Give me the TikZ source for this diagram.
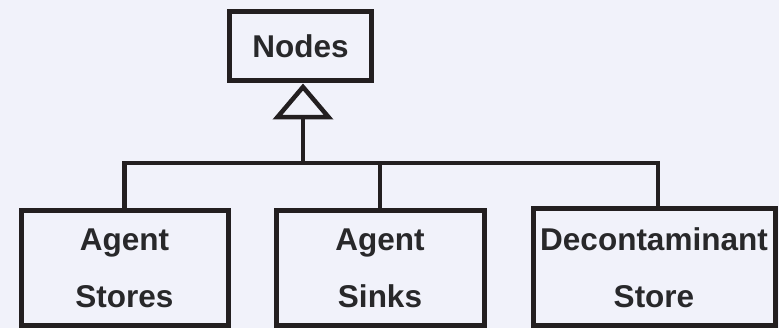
\documentclass[tikz,border=0pt]{standalone}
\usepackage{fontspec}
\setmainfont{Liberation Sans}
\usetikzlibrary{arrows.meta}
\definecolor{bg}{RGB}{241,242,250}
\definecolor{ink}{RGB}{35,31,32}
\definecolor{txt}{RGB}{40,40,42}
\begin{document}
\begin{tikzpicture}[x=1pt,y=-1pt,
  box/.style={draw=ink,line width=5pt,inner sep=0pt,text=txt,align=center,
    font=\fontsize{31.5}{57}\selectfont\bfseries},
  conn/.style={draw=ink,line width=4.5pt,line join=miter}]
\fill[bg] (0,0) rectangle (779,328);
\useasboundingbox (0,0) rectangle (779,328);
\node[box,minimum width=142pt,minimum height=69pt] (nodes) at (300.5,46.5) {Nodes};
\node[box,minimum width=207pt,minimum height=115pt] (stores) at (124.5,268.5) {Agent\\Stores};
\node[box,minimum width=208pt,minimum height=115pt] (sinks) at (380,268.5) {Agent\\Sinks};
\node[box,minimum width=242pt,minimum height=117pt] (decon) at (654,267.5) {Decontaminant\\Store};
\coordinate (hub) at (303,163);
\draw[conn,-{Triangle[open,width=60pt,length=36pt,line width=4.5pt]}] (hub) -- (hub |- nodes.south);
\draw[conn] (stores.north) |- (hub) -| ([xshift=4pt]decon.north);
\draw[conn] (sinks.north) -- (sinks.north |- hub);
\end{tikzpicture}
\end{document}
